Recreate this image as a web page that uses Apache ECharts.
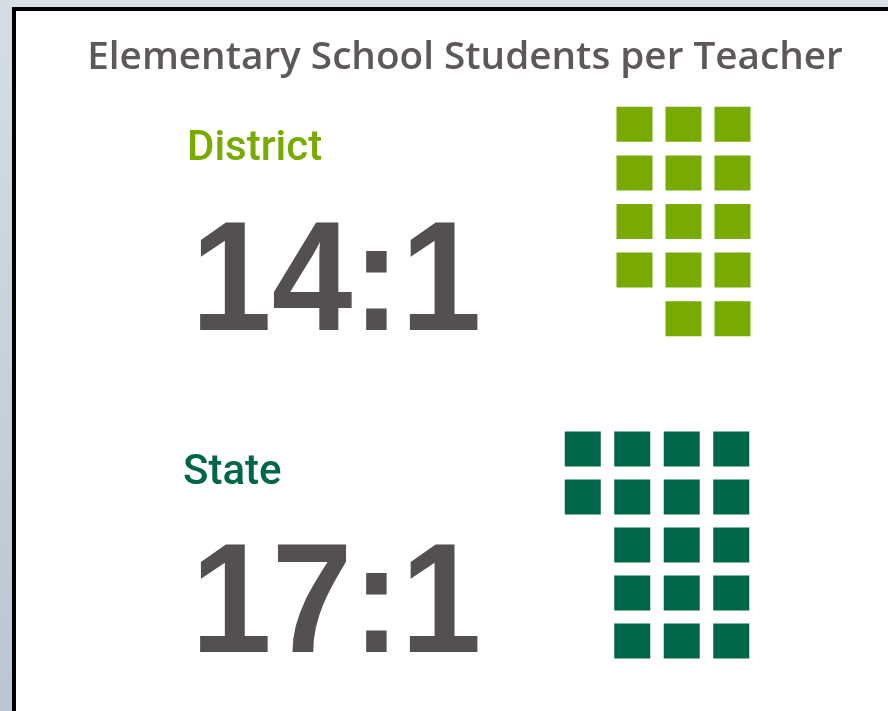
<!DOCTYPE html>
<html>
<head>
<meta charset="utf-8">
<script src="https://cdn.jsdelivr.net/npm/echarts@6/dist/echarts.min.js"></script>
<style>
html,body{margin:0;padding:0;background:#fff;}
#chart{width:888px;height:711px;}
</style>
</head>
<body>
<div id="chart"></div>
<script>
// ---- data ----
var chartTitle = 'Elementary School Students per Teacher';
var groups = ['District', 'State'];
var studentsPerTeacher = [14, 17];
var teachers = [1, 1];
var waffleRows = 5;

// ---- styles ----
var groupColors = ['#78aa00', '#00664a'];
var numberColor = '#545051';
var grids = [
  {left: 610, top: 100, width: 147, height: 243},
  {left: 558, top: 425, width: 198, height: 240}
];
var labelPos = [{x: 187, y: 149}, {x: 183, y: 473}];
var numberPos = [{x: 191, y: 287}, {x: 191, y: 609}];

function waffleData(v) {
  var cols = Math.ceil(v / waffleRows);
  var pts = [];
  var remaining = v;
  for (var k = 0; k < cols; k++) {
    var c = cols - 1 - k;
    var n = Math.min(waffleRows, remaining);
    for (var r = 0; r < n; r++) pts.push([c, r]);
    remaining -= n;
  }
  return {cols: cols, pts: pts};
}

var chart = echarts.init(document.getElementById('chart'), null, {renderer: 'canvas'});
var option = {
  animation: false,
  backgroundColor: '#ffffff',
  grid: [], xAxis: [], yAxis: [], series: [],
  graphic: [
    {type: 'rect', shape: {x: 0, y: 0, width: 888, height: 7}, style: {fill: '#d7dee6'}, silent: true},
    {type: 'rect', shape: {x: 0, y: 0, width: 12, height: 711},
     style: {fill: new echarts.graphic.LinearGradient(0, 0, 0, 1, [{offset: 0, color: '#d6dde5'}, {offset: 1, color: '#bac6d2'}])}, silent: true},
    {type: 'rect', shape: {x: 12, y: 7, width: 876, height: 4}, style: {fill: '#000'}, silent: true},
    {type: 'rect', shape: {x: 12, y: 7, width: 4, height: 704}, style: {fill: '#000'}, silent: true},
    {type: 'text', x: 465, y: 58, style: {text: chartTitle, fill: '#5e5858', font: '600 38.7px "Open Sans"', align: 'center', verticalAlign: 'middle'}}
  ]
};

groups.forEach(function (g, i) {
  var w = waffleData(studentsPerTeacher[i]);
  option.grid.push(grids[i]);
  option.xAxis.push({type: 'value', gridIndex: i, min: -0.5, max: w.cols - 0.5, show: false});
  option.yAxis.push({type: 'value', gridIndex: i, min: -0.5, max: waffleRows - 0.5, inverse: true, show: false});
  option.series.push({
    type: 'scatter', xAxisIndex: i, yAxisIndex: i, symbol: 'rect', symbolSize: [36, 35],
    itemStyle: {color: groupColors[i], opacity: 1}, data: w.pts, silent: true
  });
  option.graphic.push({type: 'text', x: labelPos[i].x, y: labelPos[i].y,
    style: {text: g, fill: groupColors[i], font: '500 42px Roboto', align: 'left', verticalAlign: 'middle'}});
  option.graphic.push({type: 'text', x: numberPos[i].x, y: numberPos[i].y, scaleX: 0.93,
    style: {text: studentsPerTeacher[i] + ':' + teachers[i], fill: numberColor, font: 'bold 156px "Liberation Sans"', align: 'left', verticalAlign: 'middle'}});
});

chart.setOption(option);
</script>
</body>
</html>
